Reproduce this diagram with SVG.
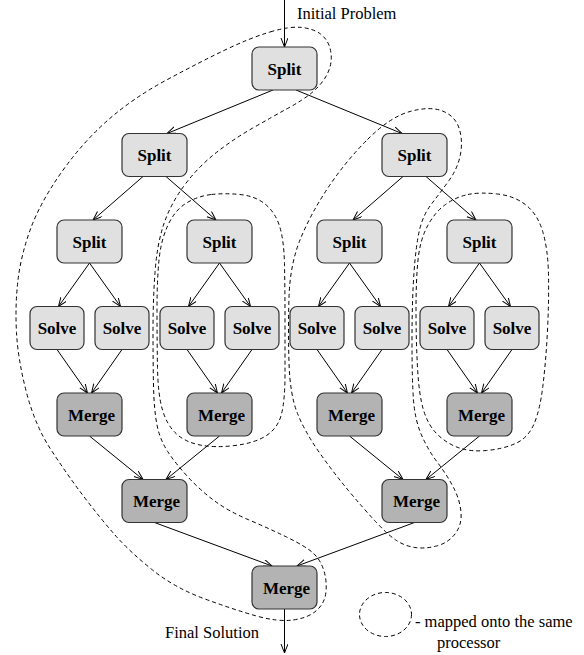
<svg xmlns="http://www.w3.org/2000/svg" width="584" height="655" viewBox="0 0 584 655">
<style>
.n rect{stroke:#333;stroke-width:1.2}
.lt rect{fill:#e0e0e0}
.dk rect{fill:#b3b3b3}
.n text{font-family:"Liberation Serif",serif;font-weight:bold;font-size:17px;text-anchor:middle;fill:#000}
.e line{stroke:#000;stroke-width:1;marker-end:url(#ah)}
.loop{fill:none;stroke:#000;stroke-width:1;stroke-dasharray:4 3}
.t{font-family:"Liberation Serif",serif;font-size:16.5px;fill:#000}
</style>
<defs>
<marker id="ah" markerWidth="10" markerHeight="8" refX="9" refY="3.5" orient="auto" markerUnits="userSpaceOnUse">
<path d="M0,0 L9,3.5 L0,7" fill="none" stroke="#000" stroke-width="1"/>
</marker>
</defs>

<g id="loops">
<path class="loop" d="M 270,32 Q 290,26 302,27.5 Q 314,29 320.5,34 Q 327,39 329.5,46.5 Q 332,54 331,62 Q 330,70 325,78 Q 320,86 311.5,93 Q 303,100 287.5,108.5 Q 272,117 252,128.5 Q 232,140 214.5,154 Q 197,168 183.5,186.5 Q 170,205 163.5,225 Q 157,245 155,272.5 Q 153,300 153,330 Q 153,360 153.5,385 Q 154,410 157,425 Q 160,440 168,452 Q 176,464 188,477 Q 200,490 214,500.5 Q 228,511 248,519.5 Q 268,528 286.5,537 Q 305,546 312.5,552.5 Q 320,559 323.5,569.5 Q 327,580 326,591.5 Q 325,603 316.5,610.5 Q 308,618 293,620 Q 278,622 256.5,616 Q 235,610 205,599 Q 175,588 152.5,570 Q 130,552 115,535 Q 100,518 83,495.5 Q 66,473 50.5,449 Q 35,425 26.5,392.5 Q 18,360 16.5,332.5 Q 15,305 18,280 Q 21,255 30.5,229 Q 40,203 61,173 Q 82,143 107.5,120.5 Q 133,98 166.5,80 Q 200,62 225,50 Q 250,38 270,32 Z"/>
<path class="loop" d="M 211.5,194.5 Q 225,193 240,194.5 Q 255,196 265,204 Q 275,212 279.5,226 Q 284,240 284.5,265 Q 285,290 285,320 Q 285,350 285,375 Q 285,400 281.5,414 Q 278,428 266.5,435.5 Q 255,443 235,445.5 Q 215,448 200,445 Q 185,442 176,433.5 Q 167,425 162.5,410 Q 158,395 157.5,367.5 Q 157,340 157,310 Q 157,280 159,260 Q 161,240 168,225 Q 175,210 186.5,203 Q 198,196 211.5,194.5 Z"/>
<path class="loop" d="M 367.5,139.5 Q 390,117 410,111.5 Q 430,106 442.5,111 Q 455,116 459,128 Q 463,140 460.5,154 Q 458,168 449,180.5 Q 440,193 431.5,204 Q 423,215 419.5,230 Q 416,245 414,272.5 Q 412,300 412,340 Q 412,380 413.5,400 Q 415,420 421.5,435 Q 428,450 437.5,462.5 Q 447,475 453.5,487.5 Q 460,500 461,512.5 Q 462,525 455,534 Q 448,543 436.5,546 Q 425,549 415,547.5 Q 405,546 396.5,540.5 Q 388,535 375.5,521.5 Q 363,508 348,490 Q 333,472 319,452 Q 305,432 297.5,413.5 Q 290,395 289,362.5 Q 288,330 289,297.5 Q 290,265 300,240 Q 310,215 327.5,188.5 Q 345,162 367.5,139.5 Z"/>
<path class="loop" d="M 468,194.5 Q 480,192 497.5,194 Q 515,196 526.5,205.5 Q 538,215 543,232.5 Q 548,250 548.5,275 Q 549,300 547.5,330 Q 546,360 543,385 Q 540,410 534,424 Q 528,438 515.5,443.5 Q 503,449 486.5,450.5 Q 470,452 458,447.5 Q 446,443 437,434 Q 428,425 423.5,410 Q 419,395 417.5,367.5 Q 416,340 416,310 Q 416,280 418,260 Q 420,240 427.5,226 Q 435,212 445.5,204.5 Q 456,197 468,194.5 Z"/>
</g>

<g id="connectors" class="e">
<line x1="284.5" y1="0" x2="284.5" y2="47"/>
<line x1="273" y1="90" x2="167" y2="133.5"/>
<line x1="296" y1="90" x2="402" y2="133.5"/>
<line x1="143" y1="176.5" x2="93" y2="220"/>
<line x1="166" y1="176.5" x2="216" y2="220"/>
<line x1="403" y1="176.5" x2="353" y2="220"/>
<line x1="426" y1="176.5" x2="476" y2="220"/>
<line x1="89.5" y1="263" x2="58.5" y2="306.5"/>
<line x1="89.5" y1="263" x2="120.5" y2="306.5"/>
<line x1="219.5" y1="263" x2="188.5" y2="306.5"/>
<line x1="219.5" y1="263" x2="250.5" y2="306.5"/>
<line x1="349.5" y1="263" x2="318.5" y2="306.5"/>
<line x1="349.5" y1="263" x2="380.5" y2="306.5"/>
<line x1="479.5" y1="263" x2="448.5" y2="306.5"/>
<line x1="479.5" y1="263" x2="510.5" y2="306.5"/>
<line x1="57" y1="349.5" x2="87.5" y2="393"/>
<line x1="122" y1="349.5" x2="91.5" y2="393"/>
<line x1="187" y1="349.5" x2="217.5" y2="393"/>
<line x1="252" y1="349.5" x2="221.5" y2="393"/>
<line x1="317" y1="349.5" x2="347.5" y2="393"/>
<line x1="382" y1="349.5" x2="351.5" y2="393"/>
<line x1="447" y1="349.5" x2="477.5" y2="393"/>
<line x1="512" y1="349.5" x2="481.5" y2="393"/>
<line x1="89.5" y1="436" x2="143" y2="479.5"/>
<line x1="219.5" y1="436" x2="166" y2="479.5"/>
<line x1="349.5" y1="436" x2="403" y2="479.5"/>
<line x1="479.5" y1="436" x2="426" y2="479.5"/>
<line x1="154.5" y1="522.5" x2="272" y2="566"/>
<line x1="414.5" y1="522.5" x2="297" y2="566"/>
<line x1="284.5" y1="609" x2="284.5" y2="653"/>
</g>

<g id="split0" class="n lt"><rect x="252" y="47" width="65" height="43" rx="7"/><text x="284.5" y="74.5">Split</text></g>
<g id="split1a" class="n lt"><rect x="122" y="133.5" width="65" height="43" rx="7"/><text x="154.5" y="161">Split</text></g>
<g id="split1b" class="n lt"><rect x="382" y="133.5" width="65" height="43" rx="7"/><text x="414.5" y="161">Split</text></g>
<g id="split2a" class="n lt"><rect x="57" y="220" width="65" height="43" rx="7"/><text x="89.5" y="247.5">Split</text></g>
<g id="split2b" class="n lt"><rect x="187" y="220" width="65" height="43" rx="7"/><text x="219.5" y="247.5">Split</text></g>
<g id="split2c" class="n lt"><rect x="317" y="220" width="65" height="43" rx="7"/><text x="349.5" y="247.5">Split</text></g>
<g id="split2d" class="n lt"><rect x="447" y="220" width="65" height="43" rx="7"/><text x="479.5" y="247.5">Split</text></g>

<g id="solve1" class="n lt"><rect x="30" y="306.5" width="54" height="43" rx="7"/><text x="57" y="334">Solve</text></g>
<g id="solve2" class="n lt"><rect x="95" y="306.5" width="54" height="43" rx="7"/><text x="122" y="334">Solve</text></g>
<g id="solve3" class="n lt"><rect x="160" y="306.5" width="54" height="43" rx="7"/><text x="187" y="334">Solve</text></g>
<g id="solve4" class="n lt"><rect x="225" y="306.5" width="54" height="43" rx="7"/><text x="252" y="334">Solve</text></g>
<g id="solve5" class="n lt"><rect x="290" y="306.5" width="54" height="43" rx="7"/><text x="317" y="334">Solve</text></g>
<g id="solve6" class="n lt"><rect x="355" y="306.5" width="54" height="43" rx="7"/><text x="382" y="334">Solve</text></g>
<g id="solve7" class="n lt"><rect x="420" y="306.5" width="54" height="43" rx="7"/><text x="447" y="334">Solve</text></g>
<g id="solve8" class="n lt"><rect x="485" y="306.5" width="54" height="43" rx="7"/><text x="512" y="334">Solve</text></g>

<g id="merge2a" class="n dk"><rect x="57" y="393" width="65" height="43" rx="7"/><text x="91.5" y="420.5">Merge</text></g>
<g id="merge2b" class="n dk"><rect x="187" y="393" width="65" height="43" rx="7"/><text x="221.5" y="420.5">Merge</text></g>
<g id="merge2c" class="n dk"><rect x="317" y="393" width="65" height="43" rx="7"/><text x="351.5" y="420.5">Merge</text></g>
<g id="merge2d" class="n dk"><rect x="447" y="393" width="65" height="43" rx="7"/><text x="481.5" y="420.5">Merge</text></g>
<g id="merge1a" class="n dk"><rect x="122" y="479.5" width="65" height="43" rx="7"/><text x="156.5" y="507">Merge</text></g>
<g id="merge1b" class="n dk"><rect x="382" y="479.5" width="65" height="43" rx="7"/><text x="416.5" y="507">Merge</text></g>
<g id="merge0" class="n dk"><rect x="252" y="566" width="65" height="43" rx="7"/><text x="286.5" y="593.5">Merge</text></g>

<g id="labels">
<text class="t" x="297" y="19">Initial Problem</text>
<text class="t" x="259" y="638" text-anchor="end">Final Solution</text>
</g>

<g id="legend">
<ellipse class="loop" cx="385.5" cy="614.5" rx="26" ry="22"/>
<text class="t" x="415" y="627" font-size="17">- mapped onto the same</text>
<text class="t" x="437" y="648" font-size="17">processor</text>
</g>
</svg>
